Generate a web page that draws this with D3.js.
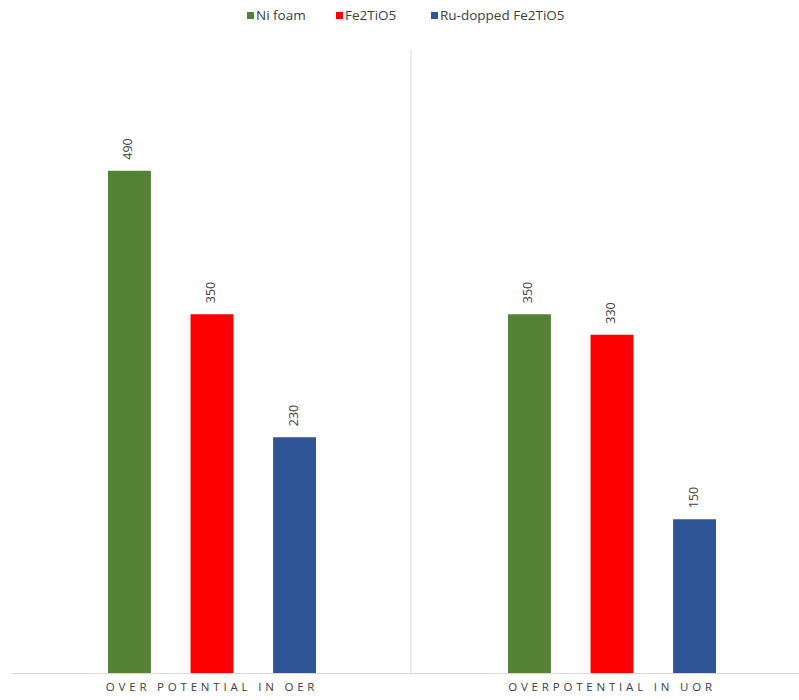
<!DOCTYPE html>
<html>
<head>
<meta charset="utf-8">
<script src="https://cdn.jsdelivr.net/npm/d3@7"></script>
<style>
  html, body { margin: 0; padding: 0; background: #fff; }
  svg { display: block; font-family: "Open Sans", "Liberation Sans", sans-serif; }
</style>
</head>
<body>
<svg id="chart" width="799" height="700"></svg>
<script>
// Categories and series values
const categories = ["OVER POTENTIAL IN OER", "OVERPOTENTIAL IN UOR"];
const seriesNames = ["Ni foam", "Fe2TiO5", "Ru-dopped Fe2TiO5"];
const niFoam = [490, 350];
const fe2TiO5 = [350, 330];
const ruDoppedFe2TiO5 = [230, 150];
const seriesColors = ["#548235", "#ff0000", "#2f5597"];

const seriesValues = [niFoam, fe2TiO5, ruDoppedFe2TiO5];

const svg = d3.select("#chart");
const baseline = 673;

const x0 = d3.scaleBand().domain(categories).range([12, 812]).padding(0);
const y = d3.scaleLinear().domain([0, 600]).range([baseline, 58]);

// Rows of data: one per category, with each series value
const rows = categories.map((c, i) => ({
  category: c,
  values: seriesNames.map((s, j) => ({ series: s, value: seriesValues[j][i], color: seriesColors[j] }))
}));

// Vertical separator between category groups
svg.append("line")
  .attr("x1", x0(categories[1]) - 1).attr("x2", x0(categories[1]) - 1)
  .attr("y1", 49).attr("y2", baseline)
  .attr("stroke", "#d9d9d9").attr("stroke-width", 1);

const groups = svg.selectAll("g.group")
  .data(rows)
  .join("g")
  .attr("class", "group")
  .attr("transform", d => `translate(${x0(d.category) + x0.bandwidth() / 2},0)`);

const x1 = d3.scaleBand().domain(seriesNames).range([-104, 104]).paddingInner(0.48).paddingOuter(0);

groups.selectAll("rect")
  .data(d => d.values)
  .join("rect")
  .attr("x", d => x1(d.series))
  .attr("width", x1.bandwidth())
  .attr("y", d => y(d.value))
  .attr("height", d => baseline - y(d.value))
  .attr("fill", d => d.color);

// Rotated value labels above each bar
groups.selectAll("text.val")
  .data(d => d.values)
  .join("text")
  .attr("class", "val")
  .attr("transform", d => `translate(${x1(d.series) + x1.bandwidth() / 2 + 3},${y(d.value) - 11}) rotate(-90)`)
  .attr("text-anchor", "start")
  .attr("font-size", 12.5)
  .attr("fill", "#404040")
  .text(d => d.value);

// Category axis
const xAxis = svg.append("g")
  .attr("transform", `translate(0,${baseline})`)
  .call(d3.axisBottom(x0).tickSize(0).tickPadding(10));
xAxis.select(".domain").attr("d", "M11,0.5H799").attr("stroke", "#d9d9d9");
xAxis.selectAll(".tick text")
  .attr("font-size", 11.5)
  .attr("fill", "#404040")
  .attr("letter-spacing", "3.8px")
  .attr("font-family", "\"Open Sans\", sans-serif");

// Legend
const legendX = [247, 336, 431];
const legend = svg.append("g");
const items = legend.selectAll("g")
  .data(seriesNames)
  .join("g")
  .attr("transform", (d, i) => `translate(${legendX[i]},0)`);
items.append("rect")
  .attr("x", 0).attr("y", 12).attr("width", 7).attr("height", 7)
  .attr("fill", (d, i) => seriesColors[i]);
items.append("text")
  .attr("x", 9).attr("y", 20)
  .attr("font-size", 13.5)
  .attr("fill", "#404040")
  .text(d => d);
</script>
</body>
</html>
